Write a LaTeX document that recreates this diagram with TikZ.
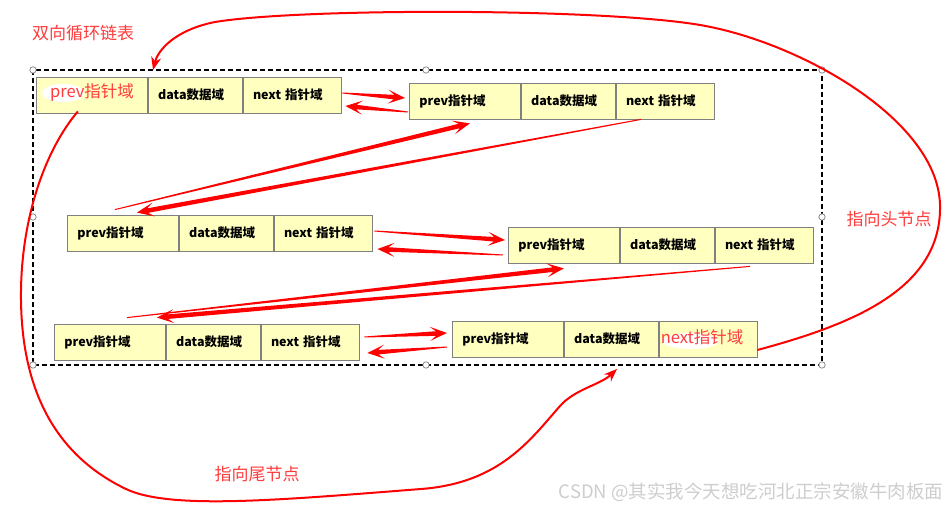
\documentclass[tikz,border=0pt]{standalone}
\usepackage{fontspec}
\setmainfont{Noto Sans CJK SC}
\usepackage{tikz}
\usetikzlibrary{arrows.meta,positioning,calc}

\definecolor{cellyellow}{RGB}{255,255,192}
\definecolor{cellgray}{RGB}{128,128,128}
\definecolor{annored}{RGB}{255,60,60}
\definecolor{markgray}{RGB}{205,205,205}

% tapered red arrow: thin at the tail, wide at the head
\newcommand\tarrow[2]{%
  \coordinate (ta) at (#1);
  \coordinate (tz) at (#2);
  \coordinate (tn) at ($(tz)!11pt!(ta)$);
  \coordinate (tw) at ($(tz)!17pt!(ta)$);
  \fill[red] ($(ta)!0.5pt!90:(tz)$) -- ($(tn)!2.3pt!90:(tz)$) -- ($(tw)!7pt!90:(tz)$)
    -- (tz) -- ($(tw)!7pt!-90:(tz)$) -- ($(tn)!2.3pt!-90:(tz)$) -- ($(ta)!0.5pt!-90:(tz)$) -- cycle;
}

\begin{document}
\begin{tikzpicture}[x=1pt,y=-1pt,
    cell/.style={draw=cellgray, fill=cellyellow, line width=0.8pt, minimum height=36pt,
      inner xsep=10pt, anchor=west, align=left, font=\fontsize{12.5}{12.5}\selectfont\bfseries},
    prevcell/.style={cell, text width=91pt},
    datacell/.style={cell, text width=74pt},
    nextcell/.style={cell, text width=78pt},
    redtext/.style={text=annored, anchor=west, inner sep=0pt, font=\fontsize{16.5}{16.5}\selectfont},
    annot/.style={text=annored, inner sep=0pt, font=\fontsize{17}{17}\selectfont},
    dashbox/.style={line width=1.8pt, dash pattern=on 5pt off 3pt},
    handle/.style={draw=cellgray, fill=white, line width=0.7pt},
    redcurve/.style={red, line width=2pt, -{Stealth[length=13pt,width=10pt]}}]
\useasboundingbox (0,0) rectangle (952,510);

% dashed frame round the list
\coordinate (boxnw) at (33,70);
\coordinate (boxse) at (822,365);
\draw[dashbox] (boxnw) rectangle (boxse);
\foreach \x/\y in {33/70,426/70,822/70,33/217,822/217,33/365,426/365,822/365}{
    \draw[handle] (\x,\y) circle (3.2pt);
}

% the six nodes, three cells each
\foreach \nm/\x/\y/\ptxt/\ntxt in {A/36/95/{}/{next 指针域}, B/409/101/{prev指针域}/{next 指针域},
    C/67/233/{prev指针域}/{next 指针域}, D/508/245/{prev指针域}/{next 指针域},
    E/54/342/{prev指针域}/{next 指针域}, F/452/339/{prev指针域}/{}}{
    \node[prevcell] (\nm p) at (\x,\y) {\ptxt};
    \node[datacell, right=0pt of \nm p] (\nm d) {data数据域};
    \node[nextcell, right=0pt of \nm d] (\nm n) {\ntxt};
}

% highlighted fields
\fill[white] ($(Ap.west)+(27,-2)$) ellipse (21 and 9);
\node[redtext] (Aptxt) at ($(Ap.west)+(14,-3)$) {prev指针域};
\fill[white] ($(Fn.west)+(32,2)$) ellipse (28 and 8);
\node[redtext] (Fntxt) at ($(Fn.west)+(2,-2)$) {next指针域};

% links between neighbours
\tarrow{$(An.east)+(1,-2)$}{$(Bp.west)+(-4,-3)$}
\tarrow{$(Bp.west)+(-1,11)$}{$(An.east)+(4,11)$}
\tarrow{$(Bn.south)+(-24,0)$}{$(Cp.north)+(14,-2)$}
\tarrow{$(Cp.north)+(-8,-5)$}{$(Bp.south)+(5,4)$}
\tarrow{$(Cn.east)+(2,-2)$}{$(Dp.west)+(-3,-5)$}
\tarrow{$(Dp.west)+(-5,10)$}{$(Cn.east)+(5,16)$}
\tarrow{$(Dn.south)+(-14,3)$}{$(Ep.north)+(47,-6)$}
\tarrow{$(Ep.north)+(17,-6)$}{$(Dp.south)+(0,5)$}
\tarrow{$(En.east)+(5,-5)$}{$(Fp.west)+(-5,-6)$}
\tarrow{$(Fp.west)+(-5,8)$}{$(En.east)+(8,11)$}

% round trips
\coordinate (headtip) at (153,70);
\coordinate (tailtip) at (617,369);
\draw[redcurve] ($(Fn.east)+(0,11)$) .. controls (850,325) and (942,290) .. (940,205)
    .. controls (938,120) and (800,42) .. (700,25)
    .. controls (600,8) and (300,8) .. (215,22)
    .. controls (175,30) and (158,50) .. (headtip);
\draw[redcurve] ($(Ap.south)+(-14,-2)$) .. controls (45,150) and (20,220) .. (21,300)
    .. controls (22,390) and (55,455) .. (126,489)
    .. controls (170,510) and (280,500) .. (421,489)
    .. controls (500,483) and (530,440) .. (560,406)
    .. controls (575,389) and (600,385) .. (tailtip);

% notes
\node[annot] (title) at (83,33) {双向循环链表};
\node[annot] (headnote) at (889,219) {指向头节点};
\node[annot] (tailnote) at (257,474) {指向尾节点};
\node[text=markgray, inner sep=0pt, font=\fontsize{18.5}{18.5}\selectfont] (mark) at (751,492) {CSDN @其实我今天想吃河北正宗安徽牛肉板面};
\end{tikzpicture}
\end{document}
